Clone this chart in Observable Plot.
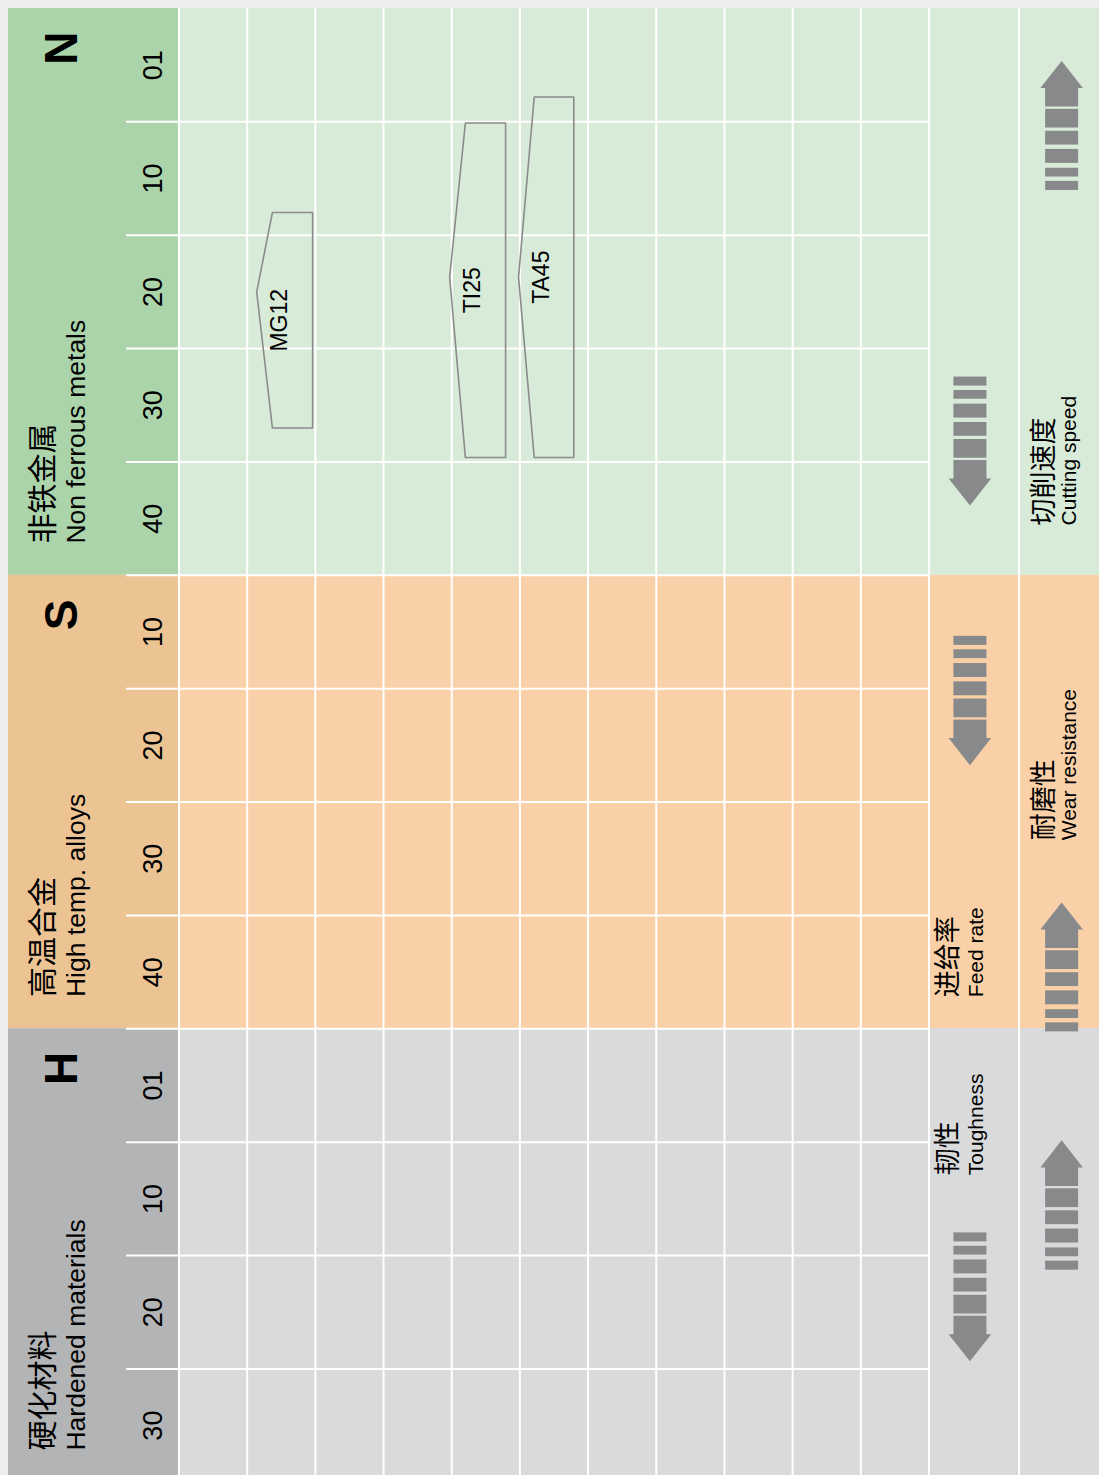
<!DOCTYPE html>
<html><head><meta charset="utf-8">
<script src="https://cdn.jsdelivr.net/npm/d3@7"></script>
<script src="https://cdn.jsdelivr.net/npm/@observablehq/plot@0.6"></script>
<style>body{margin:0;background:#fff}</style>
</head><body><div id="chart"></div>
<script>
// ---- material groups ----
const groupCodes = ["N", "S", "H"];
const groupZh = ["非铁金属", "高温合金", "硬化材料"];
const groupEn = ["Non ferrous metals", "High temp. alloys", "Hardened materials"];
const groupGrades = [["01", "10", "20", "30", "40"], ["10", "20", "30", "40"], ["01", "10", "20", "30"]];
const headerColor = ["#abd4ab", "#ecc494", "#b3b4b6"];
const bodyColor = ["#d8ebd8", "#f9d0a7", "#d9dadc"];

// ---- grade application areas (group N, ISO grade units; grid column units) ----
const gradeNames = ["MG12", "TI25", "TA45"];
const gradeFrom = [13, 5.1, 2.8];
const gradeTip = [20, 18.7, 18.7];
const gradeTo = [32, 34.6, 34.6];
const gradeLeft = [1.37, 4.2, 5.21];
const gradeRight = [1.96, 4.79, 5.79];
const gradeTipX = [1.14, 3.97, 4.98];

// ---- indicator arrows (row units) ----
const arrowColumn = ["feed", "feed", "feed", "speed", "speed", "speed"];
const arrowTail = [3.251, 5.538, 10.8, 1.605, 9.027, 11.129];
const arrowTip = [4.389, 6.68, 11.937, 0.467, 7.89, 9.988];
const stripeFrom = [0, 0.104, 0.21, 0.352, 0.484, 0.647];
const stripeTo = [0.07, 0.172, 0.318, 0.459, 0.629, 0.795];
const headBase = 0.79;

// ---- indicator labels ----
const indicatorZh = ["切削速度", "耐磨性", "进给率", "韧性"];
const indicatorEn = ["Cutting speed", "Wear resistance", "Feed rate", "Toughness"];
const indicatorColumn = ["speed", "speed", "feed", "feed"];
const indicatorAt = [4.56, 7.337, 8.721, 10.291];

// ---- layout (column units / row units) ----
const gridColumns = 11;
const xLeft = -2.5, xRight = 13.5, colSplit = 12.32, tickStart = -0.77;
const yEnd = 12.94;
const arrowX = {feed: 11.607, speed: 12.952};
const zhX = {feed: 11.285, speed: 12.693};
const enX = {feed: 11.688, speed: 13.05};
const shaftHalf = 0.242, headHalf = 0.312;

// derived tables
const groups = [];
let s = 0;
groupCodes.forEach((code, i) => {
  const n = groupGrades[i].length;
  groups.push({code, zh: groupZh[i], en: groupEn[i], start: s, end: Math.min(s + n, yEnd), nominalEnd: s + n,
    header: headerColor[i], body: bodyColor[i]});
  s += n;
});
const ticks = groups.flatMap((g, i) => groupGrades[i].map((t, j) => ({label: t, y: g.start + j + 0.5})));
const rowLines = d3.range(1, s).filter(r => r < yEnd);

const gRow = g => g / 10 + 0.5; // N group grade -> row
const polys = gradeNames.flatMap((name, i) => {
  const pts = [
    [gradeLeft[i], gRow(gradeFrom[i])], [gradeRight[i], gRow(gradeFrom[i])],
    [gradeRight[i], gRow(gradeTo[i])], [gradeLeft[i], gRow(gradeTo[i])],
    [gradeTipX[i], gRow(gradeTip[i])], [gradeLeft[i], gRow(gradeFrom[i])]
  ];
  return pts.map(([x, y]) => ({name, x, y}));
});
const gradeLabels = gradeNames.map((name, i) => ({name, x: gradeLeft[i] + 0.11, y: (gRow(gradeFrom[i]) + gRow(gradeTo[i])) / 2}));

const bars = [], heads = [];
arrowTail.forEach((t, i) => {
  const p = arrowTip[i], cx = arrowX[arrowColumn[i]];
  const pos = f => t + f * (p - t);
  stripeFrom.forEach((f, k) => bars.push({x1: cx - shaftHalf, x2: cx + shaftHalf, y1: pos(f), y2: pos(stripeTo[k])}));
  heads.push({id: i, y: pos(headBase), x1: cx - headHalf, x2: cx + headHalf});
  heads.push({id: i, y: p, x1: cx, x2: cx});
});

const indicators = indicatorZh.map((zh, i) => ({zh, en: indicatorEn[i], col: indicatorColumn[i], y: indicatorAt[i]}));

const FONT = "'Liberation Sans', Arial, Helvetica, 'Noto Sans CJK SC', sans-serif";

const chart = Plot.plot({
  width: 1099, height: 1475,
  marginTop: 8, marginLeft: 8, marginRight: 0, marginBottom: 0,
  x: {domain: [xLeft, xRight], axis: null},
  y: {domain: [0, yEnd], reverse: true, axis: null},
  style: {background: "#eceded", fontFamily: FONT},
  marks: [
    Plot.rect(groups, {x1: () => xLeft, x2: () => 0, y1: "start", y2: "end", fill: "header"}),
    Plot.rect(groups, {x1: () => 0, x2: () => xRight, y1: "start", y2: "end", fill: "body"}),
    Plot.ruleY(rowLines, {x1: tickStart, x2: gridColumns, stroke: "white", strokeWidth: 2}),
    Plot.ruleX(d3.range(0, gridColumns + 1).concat([colSplit]), {stroke: "white", strokeWidth: 2}),
    Plot.line(polys, {x: "x", y: "y", z: "name", stroke: "#8b8b8b", strokeWidth: 1.6, curve: "linear"}),
    Plot.text(gradeLabels, {x: "x", y: "y", text: "name", rotate: -90, textAnchor: "middle", lineAnchor: "middle", fontSize: 23, fill: "#000"}),
    Plot.text(ticks, {x: () => -0.38, y: "y", text: "label", rotate: -90, textAnchor: "middle", lineAnchor: "middle", fontSize: 27, fill: "#000"}),
    Plot.text(groups, {x: () => -1.708, y: d => d.start + 0.35, text: "code", rotate: -90, textAnchor: "middle", lineAnchor: "middle", fontSize: 46, fontWeight: "bold", fill: "#000"}),
    Plot.text(groups, {x: () => -1.987, y: d => d.nominalEnd - 0.28, text: "zh", rotate: -90, textAnchor: "start", lineAnchor: "middle", fontSize: 30, fill: "#000"}),
    Plot.text(groups, {x: () => -1.503, y: d => d.nominalEnd - 0.28, text: "en", rotate: -90, textAnchor: "start", lineAnchor: "middle", fontSize: 26.5, fill: "#000"}),
    Plot.rect(bars, {x1: "x1", x2: "x2", y1: "y1", y2: "y2", fill: "#88898b"}),
    Plot.areaX(heads, {x1: "x1", x2: "x2", y: "y", z: "id", fill: "#88898b", curve: "linear"}),
    Plot.text(indicators, {x: d => zhX[d.col], y: "y", text: "zh", rotate: -90, textAnchor: "start", lineAnchor: "middle", fontSize: 27, fill: "#000"}),
    Plot.text(indicators, {x: d => enX[d.col], y: "y", text: "en", rotate: -90, textAnchor: "start", lineAnchor: "middle", fontSize: 21, fill: "#000"})
  ]
});
document.getElementById("chart").appendChild(chart);
</script>
</body></html>
